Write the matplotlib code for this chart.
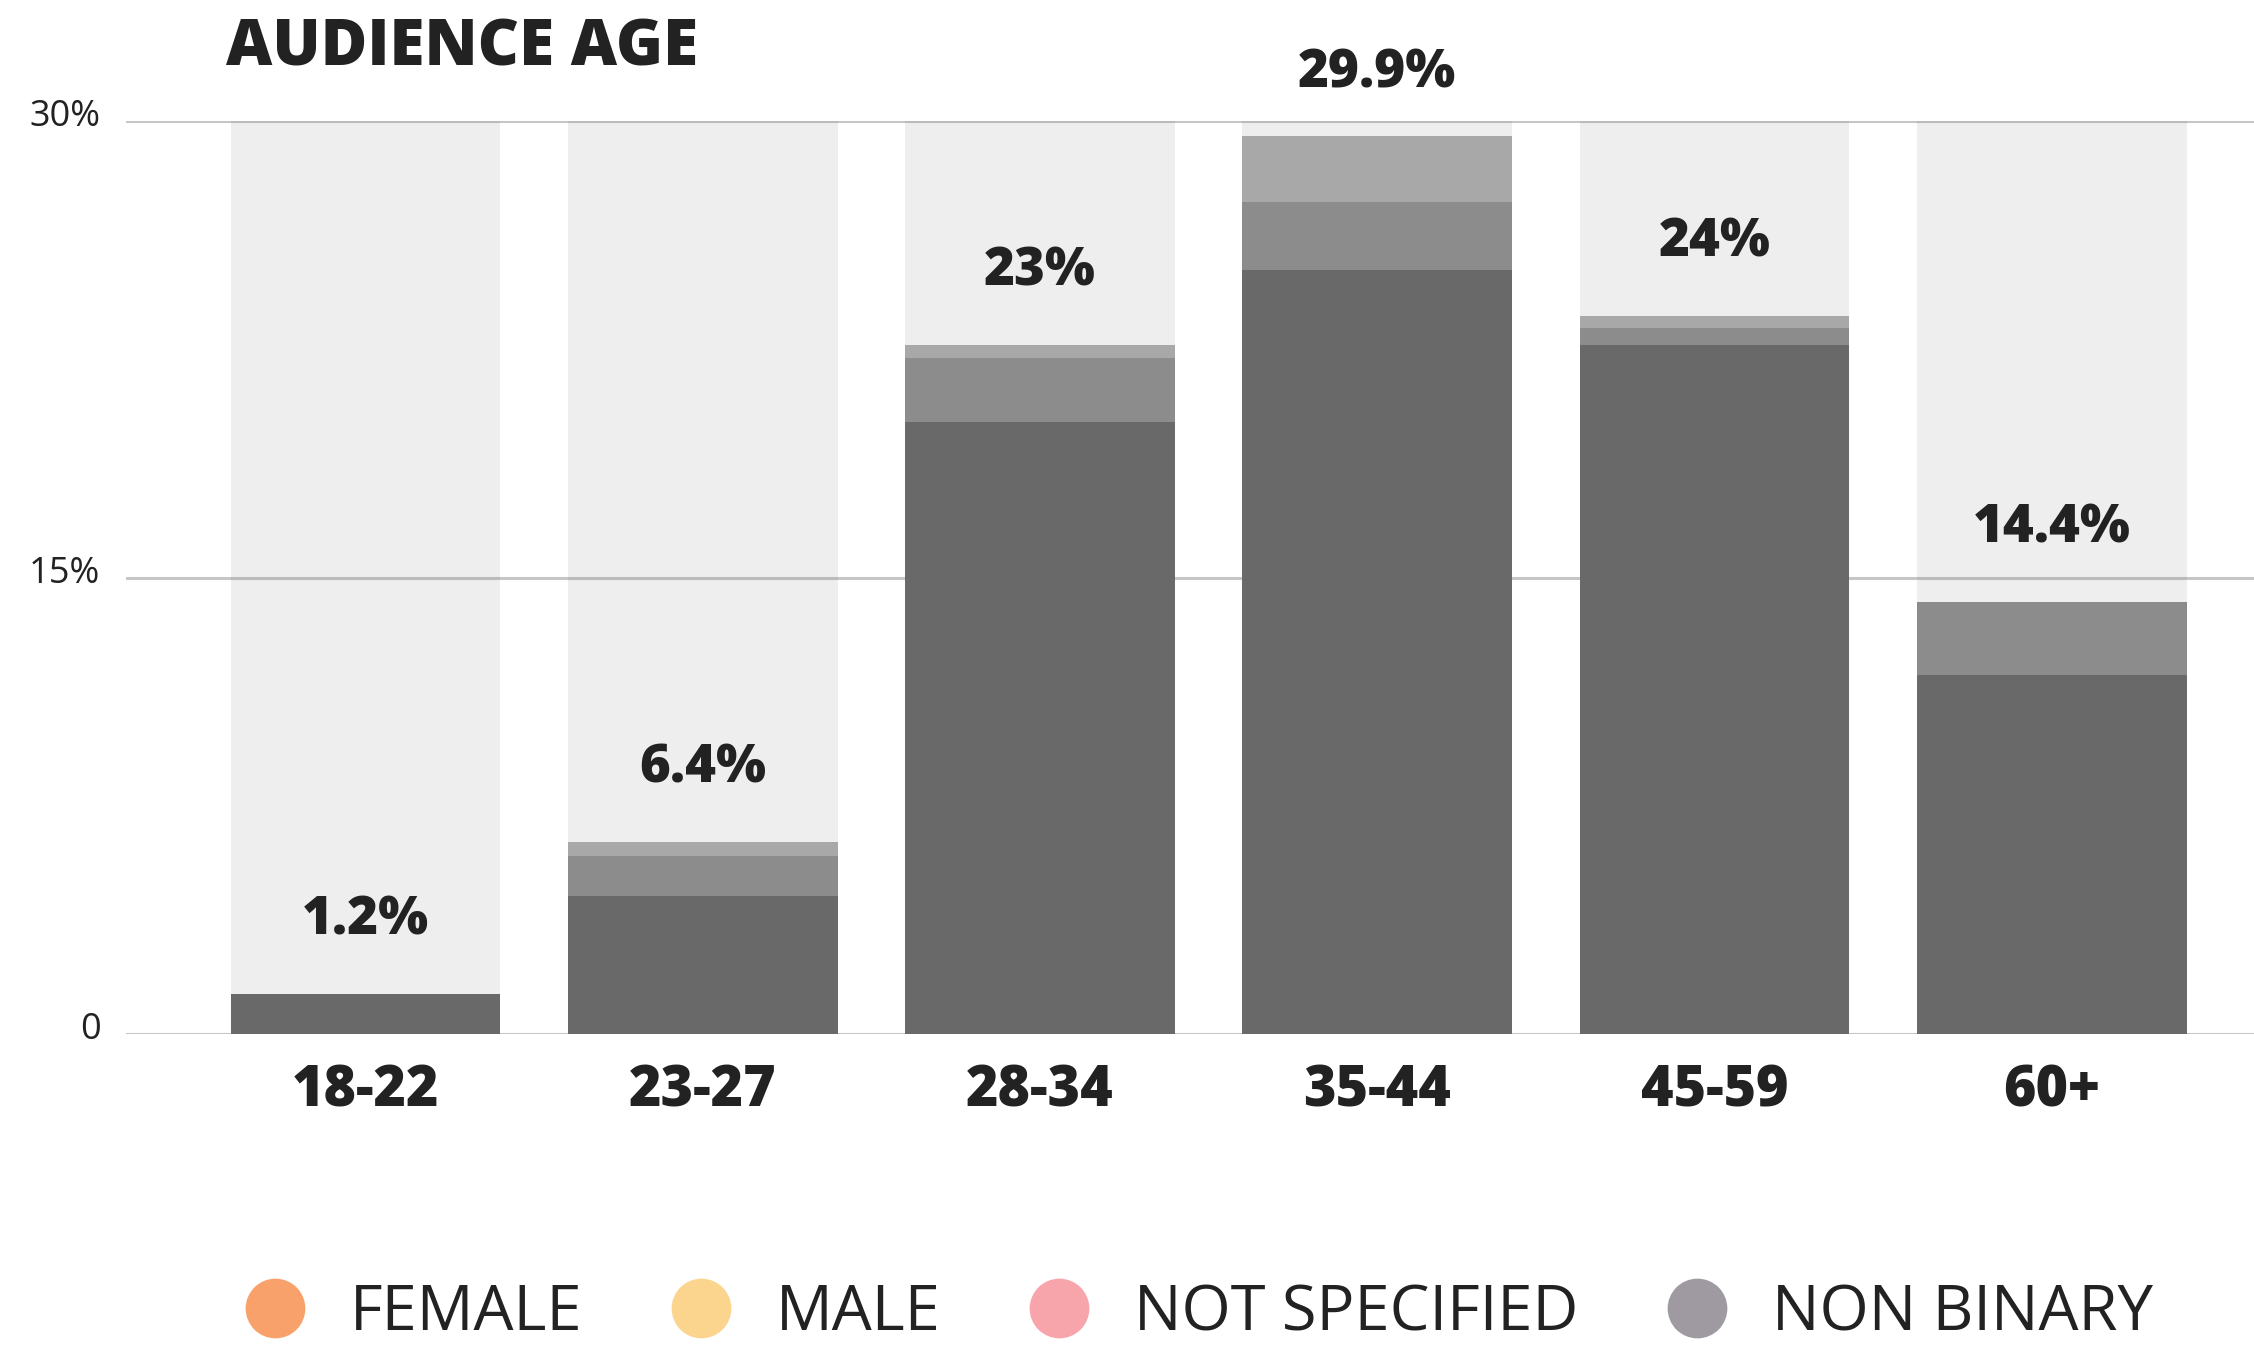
import numpy as np
import matplotlib
matplotlib.use("Agg")
import matplotlib.pyplot as plt
import matplotlib.transforms as mtransforms
from matplotlib import font_manager
from matplotlib.lines import Line2D

# data (percent of audience)
ages = ["18-22", "23-27", "28-34", "35-44", "45-59", "60+"]
female = [1.3, 4.55, 20.1, 25.1, 22.65, 11.8]
male = [0.0, 1.3, 2.1, 2.25, 0.55, 2.4]
not_specified = [0.0, 0.45, 0.45, 2.15, 0.4, 0.0]
totals_text = ["1.2%", "6.4%", "23%", "29.9%", "24%", "14.4%"]
y_ticks = [0, 15, 30]
y_tick_labels = ["0", "15%", "30%"]
legend_labels = ["FEMALE", "MALE", "NOT SPECIFIED", "NON BINARY"]
legend_colors = ["#f9a16b", "#fbd48e", "#f7a4aa", "#9f9aa1"]

bar_colors = ["#696969", "#8c8c8c", "#a8a8a8"]
bg_color = "#eeeeee"
text_color = "#222222"


def pick_heavy(cands):
    found = {}
    for f in font_manager.fontManager.ttflist:
        w = f.weight if isinstance(f.weight, int) else 400
        found[f.name] = max(found.get(f.name, 0), w)
    for c in cands:
        if found.get(c, 0) >= 800:
            return c, found[c]
    return "DejaVu Sans", 700


heavy, heavy_w = pick_heavy(["Open Sans", "Lato", "Roboto", "Inter", "Noto Sans"])
light = "Open Sans"

fig = plt.figure(figsize=(22.54, 13.49), dpi=100)
ax = fig.add_axes([126 / 2254, 315 / 1349, 1 - 126 / 2254, 913 / 1349])

x = np.arange(len(ages))
width = 0.8
ymax = 30

# light background columns
ax.bar(x, [ymax] * len(ages), width=width, color=bg_color, zorder=0)

# gridlines drawn over the background but under the data
for yt in y_ticks:
    ax.axhline(yt, color="#5d5d5d", alpha=0.35, lw=2.2, zorder=1)

bottom = np.zeros(len(ages))
for vals, col in zip([female, male, not_specified], bar_colors):
    ax.bar(x, vals, width=width, bottom=bottom, color=col, zorder=2)
    bottom += np.array(vals)

# total labels above each stack, kept inside the top margin
for xi, top, txt in zip(x, bottom, totals_text):
    ax.text(xi, min(top + 2.4, 31.55), txt, ha="center", va="center", fontsize=38,
            fontweight=heavy_w, family=heavy, color=text_color, clip_on=False)

ax.set_xlim(-0.71, 5.6)
ax.set_ylim(0, ymax)
ax.set_yticks([])
ax.set_xticks(x)
ax.set_xticklabels(ages, fontsize=40, fontweight=heavy_w, family=heavy, color=text_color)
ax.tick_params(axis="x", length=0, pad=21)
for s in ax.spines.values():
    s.set_visible(False)

trans = mtransforms.blended_transform_factory(ax.transAxes, ax.transData)
for yt, lab in zip(y_ticks, y_tick_labels):
    ax.text(-0.012, yt + 0.12, lab, transform=trans, ha="right", va="center",
            fontsize=26, family=light, color=text_color)

fig.text(226 / 2254, 1 - 49 / 1349, "AUDIENCE AGE", fontsize=46, fontweight=heavy_w,
         family=heavy, color=text_color, va="center", ha="left")

handles = [Line2D([], [], marker="o", linestyle="", markersize=43,
                  markerfacecolor=c, markeredgecolor="none") for c in legend_colors]
fig.legend(handles, legend_labels, loc="center", bbox_to_anchor=(0.5316, 1 - 1314 / 1349),
           ncol=4, frameon=False, prop={"family": light, "size": 45.5},
           labelcolor=text_color, handletextpad=0.68, columnspacing=1.38, handlelength=1.0,
           borderaxespad=0, borderpad=0.2)

fig.savefig("out.png", dpi=100)
